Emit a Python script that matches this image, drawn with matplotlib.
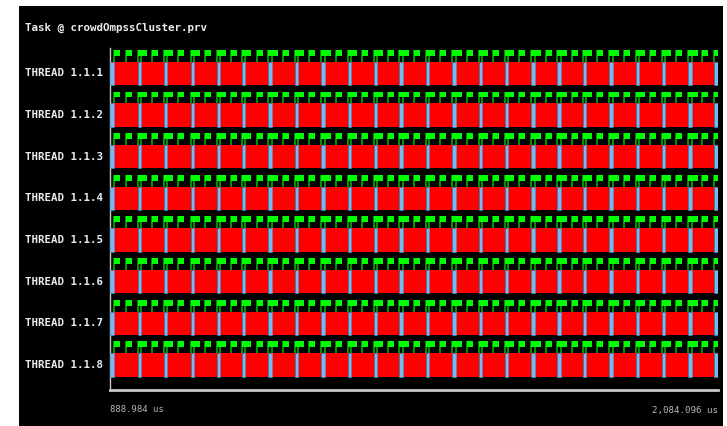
import matplotlib
matplotlib.use("Agg")
import matplotlib.pyplot as plt
from matplotlib import font_manager as fm
from matplotlib import transforms
from matplotlib.patches import Rectangle

# ---------------- data ----------------
title = "Task @ crowdOmpssCluster.prv"
threads = ["THREAD 1.1.1", "THREAD 1.1.2", "THREAD 1.1.3", "THREAD 1.1.4",
           "THREAD 1.1.5", "THREAD 1.1.6", "THREAD 1.1.7", "THREAD 1.1.8"]
t_start = 888.984
t_end = 2084.096
start_label = "888.984 us"
end_label = "2,084.096 us"

# light-blue state bursts (start time in us, duration in us)
blue_start = [888.98, 943.43, 995.12, 1047.61, 1099.30, 1149.03, 1200.14,
              1252.62, 1304.31, 1356.21, 1407.91, 1457.63, 1510.11, 1561.81,
              1613.70, 1665.40, 1717.09, 1767.02, 1818.72, 1870.41, 1922.30,
              1973.99, 2024.51, 2076.20]
blue_dur = [7.9, 5.9, 6.5, 5.9, 5.9, 5.9, 6.5, 5.9, 6.5, 6.5, 6.5, 6.7,
            6.5, 6.7, 6.5, 6.5, 6.7, 7.9, 6.5, 6.7, 6.5, 6.5, 7.9, 7.9]
# events in the middle of each red burst (us)
mid_events = [919.84, 972.13, 1023.24, 1075.72, 1126.82, 1177.34, 1228.45,
              1280.73, 1333.22, 1384.32, 1434.84, 1486.53, 1537.63, 1590.12,
              1641.81, 1693.50, 1745.39, 1796.50, 1846.82, 1899.31, 1951.00,
              2001.51, 2053.21]

# ---------------- style ----------------
W, H = 727, 426
RED = "#ff0000"
BLUE = "#78b9f2"
GREEN = "#00ff00"
STEM = "#00b000"
TXT = "#ececec"
AXC = "#c8c8c8"

def has_font(name):
    try:
        fm.findfont(fm.FontProperties(family=name), fallback_to_default=False)
        return True
    except Exception:
        return False

FONT = "Liberation Sans Narrow" if has_font("Liberation Sans Narrow") else "DejaVu Sans Mono"

fig = plt.figure(figsize=(W / 100, H / 100), dpi=100, facecolor="white")
fig.patches.append(Rectangle((19 / W, 0), (723 - 19) / W, (H - 6) / H,
                             transform=fig.transFigure, facecolor="black",
                             edgecolor="none", zorder=-10))

top_px, bot_px, left_px, right_px = 48.4, 390, 110, 718
pitch = 41.65
ax = fig.add_axes([left_px / W, 1 - bot_px / H, (right_px - left_px) / W,
                   (bot_px - top_px) / H])
ax.set_zorder(5)
ax.set_facecolor("black")
ax.set_xlim(t_start, t_end)
ax.set_ylim((bot_px - top_px) / pitch, 0)
for s in ("top", "right"):
    ax.spines[s].set_visible(False)
ax.spines["left"].set_color(AXC)
ax.spines["left"].set_linewidth(1.0)
ax.spines["bottom"].set_color(AXC)
ax.spines["bottom"].set_linewidth(2.0)
ax.set_xticks([])
ax.set_yticks([])

bar_off, bar_h = 0.32, 0.56
flag_top, flag_h = 0.035, 0.14
flag_w = 6.0 * (t_end - t_start) / (right_px - left_px)

blue_end = [s + d for s, d in zip(blue_start, blue_dur)]
red_ranges = [(e, s - e) for e, s in zip(blue_end[:-1], blue_start[1:])]
blue_ranges = list(zip(blue_start, blue_dur))
events = sorted(blue_start[1:] + blue_end[:-1] + mid_events)

for i, name in enumerate(threads):
    ax.broken_barh(red_ranges, (i + bar_off, bar_h), facecolors=RED,
                   edgecolor="none", zorder=2)
    ax.broken_barh(blue_ranges, (i + bar_off, bar_h), facecolors=BLUE,
                   edgecolor="#5a8fc0", linewidth=0.4, zorder=3)
    ax.vlines(events, i + flag_top, i + bar_off, colors=STEM,
              linewidth=1.2, zorder=4)
    ax.broken_barh([(t, flag_w) for t in events], (i + flag_top, flag_h),
                   facecolors=GREEN, edgecolor="none", zorder=5)

blend = transforms.blended_transform_factory(fig.transFigure, ax.transData)
row_texts = []
for i, name in enumerate(threads):
    row_texts.append(ax.text(25 / W, i + bar_off + bar_h / 2, name,
                             transform=blend, ha="left", va="center",
                             color=TXT, family=FONT, fontsize=8,
                             fontweight="bold", clip_on=False))
t_title = fig.text(25 / W, 1 - 28 / H, title, ha="left", va="center",
                   color=TXT, family=FONT, fontsize=8, fontweight="bold")
t_l = fig.text(left_px / W, 1 - 410 / H, start_label, ha="left", va="center",
               color="#b8b8b8", family=FONT, fontsize=7)
t_r = fig.text(right_px / W, 1 - 410 / H, end_label, ha="right", va="center",
               color="#b8b8b8", family=FONT, fontsize=7)

# fit text widths to the reference
fig.canvas.draw()
r = fig.canvas.get_renderer()
def fit(texts, target):
    w = texts[0].get_window_extent(r).width
    for t in texts:
        t.set_fontsize(t.get_fontsize() * target / w)
fit(row_texts, 78)
fit([t_title], 185)
fit([t_l], 54)
fit([t_r], 66)

fig.savefig("out.png", dpi=100, facecolor="white")
